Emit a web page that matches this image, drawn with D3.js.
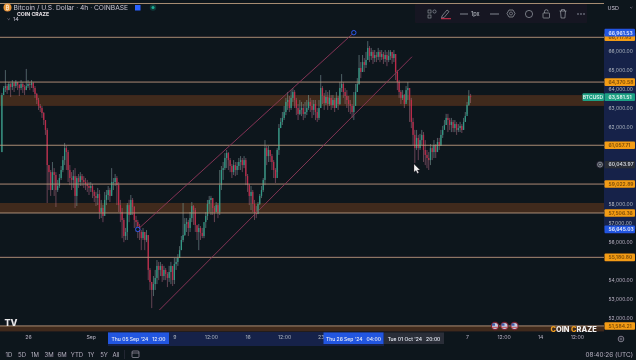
<!DOCTYPE html>
<html>
<head>
<meta charset="utf-8">
<script src="https://cdn.jsdelivr.net/npm/d3@7"></script>
<style>
  html, body { margin: 0; padding: 0; background: #11131f; overflow: hidden; }
  text { font-family: 'Inter', 'Liberation Sans', sans-serif; }
</style>
</head>
<body>
<div id="chart"></div>
<script>
// 4h BTCUSD candles, left to right
const firstOpen = 60700
const closes = [
  63690,64060,64160,63950,64270,64110,64320,64160,64370,64220,
  64060,64270,64110,63950,64160,64270,64220,64320,64060,63750,
  63430,63120,63010,62750,62380,61860,60020,59650,58710,59650,
  59500,58710,58920,59340,59760,60280,60910,60700,59760,59340,
  59240,59440,58400,59340,59130,59440,59240,59130,59030,58920,
  58820,58920,58610,58400,58290,58500,57560,57770,57350,58190,
  58450,58710,58400,59130,59130,59340,58970,57920,57560,57140,
  56300,56510,57920,57400,58190,57820,57140,57030,56820,56510,
  56190,56510,56090,56350,54520,53890,53470,53780,54100,54730,
  54520,54730,54200,54520,54310,54100,54410,54730,53990,54830,
  54940,55150,55560,56090,56350,56930,57030,56720,57240,57870,
  57660,56880,56510,56720,56460,56300,57030,57350,57980,58190,
  58290,57770,57560,57920,57560,58970,59760,59860,60390,60650,
  60280,59970,59650,60020,59760,59970,60180,60280,60020,60280,
  59440,58970,58400,58610,57980,57560,57450,57980,58400,58710,
  59240,60910,60490,60810,60490,60180,59760,59340,60810,61960,
  62280,62490,62800,63330,63430,63010,63540,63850,63430,63010,
  62700,62910,63010,62700,62800,63010,63330,63120,62910,63220,
  62800,62490,63010,64060,63640,63270,63590,63220,63540,63170,
  63430,63010,63540,63220,64060,64270,63850,63640,63430,63220,
  63120,62800,63120,63850,64270,65110,64900,65420,65270,65530,
  66160,65740,65950,65630,65790,65690,65950,65690,65840,65580,
  65790,65530,65740,65950,65630,65840,64900,64370,63850,63540,
  63690,63220,63950,64060,63430,62280,61600,60910,61440,60910,
  61330,61600,60810,60550,60390,60280,60910,60700,61070,60700,
  61230,61020,61600,61860,62120,62490,62380,62120,62280,61960,
  62170,61860,61960,62070,61860,62280,62590,63170,63640,63590
]
const highs = [
  63800,64160,65000,64270,64370,64320,64480,64370,64480,64370,
  64270,64480,64370,64220,65060,64480,64370,64480,64370,64160,
  63800,63540,63220,63120,62800,62380,61960,60020,59760,60180,
  59860,59650,59240,59550,59970,60490,61180,61020,60810,60020,
  59650,59760,59860,59440,59550,59650,59550,59440,59340,59240,
  59130,59130,59030,58710,58610,58820,58710,58190,57920,58610,
  58710,58920,58820,59860,59340,59550,59440,59130,58190,57770,
  57240,56720,58030,58190,58450,58290,57870,57350,57140,56930,
  56610,56720,56510,56610,56350,54620,53890,54200,54520,55040,
  54940,54940,54830,54730,54620,54410,54730,54940,54730,55150,
  55150,55350,55770,56300,58030,57240,57240,57140,57560,58080,
  57920,57770,56820,56930,56820,56720,56720,57560,58190,58400,
  58400,58290,57870,58080,58030,59760,59970,60180,60650,60810,
  60700,60390,60070,60280,60180,60180,60390,60490,60390,60490,
  60390,59550,59030,58920,58710,58190,57870,58080,58500,58920,
  59340,61330,61020,61020,60810,60600,60280,59860,60910,62170,
  62490,62800,63120,63540,63850,63640,63950,64060,63950,63540,
  63220,63430,63330,63220,63330,63430,63690,63540,63430,63430,
  63430,63010,63430,64740,64160,63800,63950,63850,63950,63690,
  63690,63540,63850,63640,64370,64790,64370,64060,63950,63640,
  63430,63220,63850,64270,64580,65790,65420,65790,65630,65950,
  66520,66260,66160,66050,66050,65950,66160,66050,66050,65950,
  66050,65950,66050,66050,65950,66050,65840,65000,64480,63950,
  63950,63750,64160,64370,64060,63540,62490,61860,61860,61600,
  61650,61860,61750,61330,60810,60700,61120,61020,61330,61120,
  61440,61440,61860,62070,62380,62700,62700,62490,62490,62380,
  62380,62280,62170,62280,62170,62490,62800,63330,63950,63750
]
const lows = [
  60700,63850,63850,63750,63950,63590,63950,63850,64060,63950,
  63640,63950,63800,63690,63950,64060,63950,64060,63850,63540,
  63220,62910,62800,62490,62120,61600,58030,58710,58400,59130,
  58400,57820,58610,58820,59240,59650,60020,59760,59130,58970,
  58710,58820,57770,57870,58820,58920,58920,58820,58710,58610,
  58450,58610,58290,58080,57870,57920,57190,57240,57030,57560,
  57920,58190,58080,58610,58710,58920,57920,57560,57030,56190,
  55980,56090,56090,57030,57560,57400,56720,56510,56190,56090,
  55560,56090,55560,55980,53990,53470,52520,53150,53470,53780,
  53990,54200,53890,53990,53990,53620,53890,53780,53680,53780,
  54520,54730,55150,55560,55980,56300,56510,56300,56510,57030,
  56880,56510,56090,55560,56090,56190,56190,56720,57140,57560,
  57400,57400,57030,57560,57240,57400,58710,59240,59760,59860,
  59760,59650,59340,59500,59440,59500,59760,59760,59650,59860,
  58970,58610,57920,57660,57560,57140,57240,57560,57920,58290,
  58610,58970,60020,60180,60180,59760,59340,59080,59650,60550,
  61960,62120,62380,62640,62910,62800,62910,63330,63010,62640,
  62380,62640,62590,62380,62490,62640,62910,62800,62490,62640,
  62380,62280,62380,63010,63220,62910,63170,62910,63120,62910,
  63010,62800,63010,62910,63170,63850,63540,63220,63010,62800,
  62700,62490,62380,63540,63850,64220,64580,64900,64900,65110,
  65530,65420,65530,65320,65420,65420,65530,65420,65530,65320,
  65420,65210,65420,65530,65320,65420,64480,63950,63540,63220,
  63430,63010,63330,63430,62280,61960,61070,60130,60810,60280,
  60810,61070,60180,60020,59860,59760,60020,60280,60390,60390,
  60810,60810,61070,61440,61960,62120,61750,61860,61750,61750,
  61750,61600,61750,61750,61700,61860,62280,62700,63120,63270
]
const opens = closes.map((c, i) => i === 0 ? firstOpen : closes[i - 1])

const levels = [68490, 66717.95, 64370.58, 61057.71, 59022.89, 57506.36, 55180.80, 51584.21]
const zoneTops = [63690, 58030, 51584.21]
const zoneBottoms = [63120, 57506.36, 51300]
const priceTicks = [66000, 65000, 64000, 63000, 62000, 58000, 57000, 56000, 54000, 53000, 52000]
const orangeLabels = [66717.95, 64370.58, 61057.71, 59022.89, 57506.36, 55180.80, 51584.21]
const blueLabels = [66961.53, 56645.03]
const lastPrice = 63581.51
const crossPrice = 60043.97

const timeTickBars = [15, 51, 99, 120, 141, 162, 183, 267, 288, 309, 330]
const timeTickLabels = ['26', 'Sep', '9', '12:00', '16', '12:00', '23', '7', '12:00', '14', '12:00']
const rangeButtons = ['1D', '5D', '1M', '3M', '6M', 'YTD', '1Y', '5Y', 'All']
const rangeButtonX = [9, 22, 35, 49, 62, 77, 91, 104, 116]

// channel end points: [bar, price]
const channelUpper = [[78, 56645.03], [202, 66961.53]]
const channelLower = [[90.4, 52420], [235.4, 65700]]

const width = 636
const height = 360
const paneRight = 604
const paneBottom = 332
const bg = '#11131f'

const svg = d3.select('#chart').append('svg')
  .attr('width', width).attr('height', height)
  .style('display', 'block')

const defs = svg.append('defs')
defs.append('filter').attr('id', 'soft').attr('x', '-2%').attr('y', '-2%').attr('width', '104%').attr('height', '104%')
  .append('feGaussianBlur').attr('stdDeviation', 0.4)

const xScale = d3.scaleLinear().domain([0, 345.6]).range([1.9, paneRight])
const yScale = d3.scaleLinear().domain([66000, 52000]).range([51, 318])

const all = svg.append('g').attr('filter', 'url(#soft)')

all.append('rect').attr('width', width).attr('height', height).attr('fill', bg)

// brown zones
zoneTops.forEach(function(top, i) {
  all.append('rect')
    .attr('x', 0).attr('width', paneRight)
    .attr('y', yScale(top))
    .attr('height', yScale(zoneBottoms[i]) - yScale(top))
    .attr('fill', '#402a1d')
})

// candles
const candles = all.append('g').attr('opacity', 0.9)
candles.selectAll('.wick')
  .data(closes)
  .enter().append('line')
  .attr('class', 'wick')
  .attr('x1', (d, i) => xScale(i)).attr('x2', (d, i) => xScale(i))
  .attr('y1', (d, i) => yScale(highs[i])).attr('y2', (d, i) => yScale(lows[i]))
  .attr('stroke', (d, i) => d >= opens[i] ? '#7fa89f' : '#a9707c')
  .attr('stroke-width', 0.6)
candles.selectAll('.body')
  .data(closes)
  .enter().append('rect')
  .attr('class', 'body')
  .attr('x', (d, i) => xScale(i) - 0.65)
  .attr('width', 1.3)
  .attr('y', (d, i) => yScale(Math.max(d, opens[i])))
  .attr('height', (d, i) => Math.max(0.8, Math.abs(yScale(d) - yScale(opens[i]))))
  .attr('fill', (d, i) => d >= opens[i] ? '#35a88f' : '#cf2f4e')

// level lines
all.selectAll('.level')
  .data(levels)
  .enter().append('line')
  .attr('class', 'level')
  .attr('x1', 0).attr('x2', paneRight)
  .attr('y1', d => yScale(d)).attr('y2', d => yScale(d))
  .attr('stroke', '#b89a7c')
  .attr('stroke-width', 0.9)

// channel
const channelLine = d3.line().x(d => xScale(d[0])).y(d => yScale(d[1]))
;[channelUpper, channelLower].forEach(function(c) {
  all.append('path').attr('d', channelLine(c))
    .attr('fill', 'none').attr('stroke', '#8d3a58').attr('stroke-width', 0.9)
})
;[channelUpper[0], channelUpper[1]].forEach(function(p) {
  all.append('circle').attr('cx', xScale(p[0])).attr('cy', yScale(p[1])).attr('r', 2.2)
    .attr('fill', bg).attr('stroke', '#2962ff').attr('stroke-width', 0.9)
})

// right price axis
all.append('rect').attr('x', paneRight).attr('y', 0).attr('width', width - paneRight).attr('height', paneBottom)
  .attr('fill', bg)
all.append('rect').attr('x', paneRight).attr('y', yScale(blueLabels[0])).attr('width', width - paneRight)
  .attr('height', yScale(blueLabels[1]) - yScale(blueLabels[0])).attr('fill', '#13224a')

const yAxis = d3.axisRight(yScale).tickValues(priceTicks).tickFormat(d3.format(',.2f')).tickSize(0).tickPadding(0)
const yAxisG = all.append('g').attr('transform', 'translate(' + (paneRight + 4.5) + ',0)').call(yAxis)
yAxisG.select('.domain').remove()
yAxisG.selectAll('text').attr('fill', '#b2b5be').attr('font-size', '5px')

function priceLabel(value, fill, fg) {
  all.append('rect').attr('x', paneRight + 0.5).attr('y', yScale(value) - 3.8).attr('width', 30.5).attr('height', 7.6)
    .attr('rx', 1).attr('fill', fill)
  all.append('text').attr('x', paneRight + 4.5).attr('y', yScale(value) + 1.9)
    .text(d3.format(',.2f')(value)).attr('font-size', '5px').attr('font-weight', 600).attr('fill', fg)
}
orangeLabels.forEach(d => priceLabel(d, '#f39c12', '#7a4a10'))
blueLabels.forEach(d => priceLabel(d, '#2456e0', '#e6ebf8'))
priceLabel(lastPrice, '#1fa184', '#e6f5f0')
priceLabel(crossPrice, '#2a2e39', '#d1d4dc')

all.append('rect').attr('x', 582.5).attr('y', yScale(lastPrice) - 3.8).attr('width', 21.5).attr('height', 7.6).attr('rx', 1).attr('fill', '#1fa184')
all.append('text').attr('x', 593).attr('y', yScale(lastPrice) + 1.9).attr('text-anchor', 'middle')
  .text('BTCUSD').attr('font-size', '5px').attr('font-weight', 600).attr('fill', '#dff3ee')

// plus button at the crosshair
all.append('circle').attr('cx', 600).attr('cy', yScale(crossPrice)).attr('r', 3.6).attr('fill', '#2a2e39')
all.append('circle').attr('cx', 600).attr('cy', yScale(crossPrice)).attr('r', 2.4).attr('fill', 'none').attr('stroke', '#d1d4dc').attr('stroke-width', 0.5)
all.append('path').attr('d', 'M598.8,' + yScale(crossPrice) + 'h2.4M600,' + (yScale(crossPrice) - 1.2) + 'v2.4')
  .attr('stroke', '#d1d4dc').attr('stroke-width', 0.5)

all.append('text').attr('x', 607.5).attr('y', 10).text('USD').attr('font-size', '5.4px').attr('fill', '#c3c6ce')
all.append('path').attr('d', 'M630,7l1.2,1.2l1.2,-1.2').attr('fill', 'none').attr('stroke', '#9a9da6').attr('stroke-width', 0.5)

// time axis
all.append('rect').attr('x', 0).attr('y', paneBottom).attr('width', width).attr('height', 14).attr('fill', bg)
all.append('rect').attr('x', 108).attr('y', paneBottom).attr('width', 276).attr('height', 14).attr('fill', '#13224a')

const xAxis = d3.axisBottom(xScale).tickValues(timeTickBars)
  .tickFormat((d, i) => timeTickLabels[i]).tickSize(0).tickPadding(0)
const xAxisG = all.append('g').attr('transform', 'translate(0,337)').call(xAxis)
xAxisG.select('.domain').remove()
xAxisG.selectAll('text').attr('fill', '#b2b5be').attr('font-size', '5.2px').attr('dy', '0.4em')

function dateLabel(x, w, txt, fill) {
  all.append('rect').attr('x', x).attr('y', 332.5).attr('width', w).attr('height', 11.5).attr('fill', fill)
  all.append('text').attr('x', x + w / 2).attr('y', 340.8).attr('text-anchor', 'middle')
    .text(txt).attr('font-size', '5px').attr('font-weight', 500).attr('fill', '#e8ecf5').attr('xml:space', 'preserve')
}
dateLabel(108, 61, "Thu 05 Sep '24   12:00", '#2456e0')
dateLabel(323.5, 60, "Thu 26 Sep '24   04:00", '#2456e0')
dateLabel(384, 60, "Tue 01 Oct '24   20:00", '#2a2e39')

// gear
all.append('circle').attr('cx', 621).attr('cy', 339).attr('r', 2.8).attr('fill', 'none').attr('stroke', '#a8abb4').attr('stroke-width', 0.7)
all.append('circle').attr('cx', 621).attr('cy', 339).attr('r', 1).attr('fill', 'none').attr('stroke', '#a8abb4').attr('stroke-width', 0.5)

// bottom bar
all.selectAll('.range')
  .data(rangeButtons)
  .enter().append('text')
  .attr('class', 'range')
  .attr('x', (d, i) => rangeButtonX[i]).attr('y', 356.5)
  .attr('text-anchor', 'middle')
  .text(d => d).attr('font-size', '6px').attr('fill', '#b2b5be')
all.append('line').attr('x1', 124.5).attr('x2', 124.5).attr('y1', 350).attr('y2', 359).attr('stroke', '#2a2e39').attr('stroke-width', 0.7)
all.append('rect').attr('x', 132).attr('y', 351).attr('width', 7).attr('height', 6.5).attr('rx', 1)
  .attr('fill', 'none').attr('stroke', '#b2b5be').attr('stroke-width', 0.6)
all.append('line').attr('x1', 132).attr('x2', 139).attr('y1', 353).attr('y2', 353).attr('stroke', '#b2b5be').attr('stroke-width', 0.6)
all.append('text').attr('x', 633).attr('y', 357).attr('text-anchor', 'end')
  .text('08:40:26 (UTC)').attr('font-size', '6.4px').attr('fill', '#b2b5be')

// header
all.append('circle').attr('cx', 7.5).attr('cy', 7.5).attr('r', 4).attr('fill', '#e8973a')
all.append('text').attr('x', 7.5).attr('y', 9.6).attr('text-anchor', 'middle').text('₿').attr('font-size', '5.5px').attr('fill', '#fff')
all.append('text').attr('x', 13.5).attr('y', 10).text('Bitcoin / U.S. Dollar · 4h · COINBASE')
  .attr('font-size', '6.7px').attr('fill', '#c6c9d1')
all.append('rect').attr('x', 135).attr('y', 5).attr('width', 5.5).attr('height', 5.5).attr('fill', '#2962ff')
all.append('circle').attr('cx', 153).attr('cy', 7.5).attr('r', 3.2).attr('fill', '#0e3b38')
all.append('circle').attr('cx', 153).attr('cy', 7.5).attr('r', 1.5).attr('fill', '#22ab94')
all.append('text').attr('x', 17).attr('y', 15.8).text('COIN CRAZE').attr('font-size', '5.2px').attr('font-weight', 700).attr('fill', '#e4e4e4')
all.append('path').attr('d', 'M7.5,18.5l1.2,1.2l1.2,-1.2').attr('fill', 'none').attr('stroke', '#b2b5be').attr('stroke-width', 0.5)
all.append('text').attr('x', 13).attr('y', 21).text('14').attr('font-size', '5.4px').attr('fill', '#c6c9d1')

// drawing toolbar
all.append('rect').attr('x', 415).attr('y', 4).attr('width', 172).attr('height', 19).attr('rx', 2).attr('fill', '#161823')
all.append('rect').attr('x', 428).attr('y', 10).attr('width', 3).attr('height', 3).attr('fill', 'none').attr('stroke', '#b2b5be').attr('stroke-width', 0.5)
all.append('rect').attr('x', 428).attr('y', 15).attr('width', 3).attr('height', 3).attr('fill', 'none').attr('stroke', '#b2b5be').attr('stroke-width', 0.5)
all.append('circle').attr('cx', 434.5).attr('cy', 11.5).attr('r', 1.6).attr('fill', 'none').attr('stroke', '#b2b5be').attr('stroke-width', 0.5)
all.append('path').attr('d', 'M442,16l5,-6l2,1.6l-5,6l-2.4,0.6z').attr('fill', 'none').attr('stroke', '#b2b5be').attr('stroke-width', 0.6)
all.append('rect').attr('x', 441).attr('y', 18.2).attr('width', 10).attr('height', 1).attr('fill', '#d9304f')
all.append('line').attr('x1', 460).attr('x2', 468).attr('y1', 14).attr('y2', 14).attr('stroke', '#b2b5be').attr('stroke-width', 0.7)
all.append('text').attr('x', 471).attr('y', 16).text('1px').attr('font-size', '5.6px').attr('fill', '#c6c9d1')
all.append('line').attr('x1', 490).attr('x2', 499).attr('y1', 14).attr('y2', 14).attr('stroke', '#b2b5be').attr('stroke-width', 0.7)
all.append('path').attr('d', 'M509,10l4,0l2,3.5l-2,3.5l-4,0l-2,-3.5z').attr('fill', 'none').attr('stroke', '#b2b5be').attr('stroke-width', 0.6)
all.append('circle').attr('cx', 511).attr('cy', 13.5).attr('r', 1.5).attr('fill', 'none').attr('stroke', '#b2b5be').attr('stroke-width', 0.5)
all.append('circle').attr('cx', 529).attr('cy', 14).attr('r', 3.6).attr('fill', 'none').attr('stroke', '#b2b5be').attr('stroke-width', 0.6)
all.append('rect').attr('x', 543).attr('y', 13).attr('width', 6.5).attr('height', 5).attr('rx', 0.6).attr('fill', 'none').attr('stroke', '#b2b5be').attr('stroke-width', 0.6)
all.append('path').attr('d', 'M544.5,13v-1.5a1.8,1.8 0 0 1 3.6,0').attr('fill', 'none').attr('stroke', '#b2b5be').attr('stroke-width', 0.6)
all.append('path').attr('d', 'M559.5,11h7M560.5,11l0.6,7h3.8l0.6,-7M561.5,11v-1.4h3v1.4').attr('fill', 'none').attr('stroke', '#b2b5be').attr('stroke-width', 0.6)
all.selectAll('.dot').data([578, 581, 584]).enter().append('circle').attr('class', 'dot')
  .attr('cx', d => d).attr('cy', 14).attr('r', 0.7).attr('fill', '#b2b5be')

// TV logo
all.append('text').attr('x', 4.5).attr('y', 326).text('TV').attr('font-size', '9px').attr('font-weight', 800).attr('fill', '#e8e8e8')

// calendar flags
;[495, 504.5, 514.5].forEach(function(x) {
  all.append('circle').attr('cx', x).attr('cy', 326).attr('r', 4.2).attr('fill', '#7a2430')
  all.append('circle').attr('cx', x).attr('cy', 326).attr('r', 3).attr('fill', '#c6cce0')
  all.append('rect').attr('x', x - 3).attr('y', 323.5).attr('width', 3).attr('height', 2.2).attr('fill', '#3a5aa8')
  all.append('rect').attr('x', x - 3).attr('y', 326.8).attr('width', 6).attr('height', 1).attr('fill', '#c84a52')
})

// channel watermark bottom right
const mark = all.append('text').attr('x', 550.5).attr('y', 332).attr('font-size', '7.4px').attr('font-weight', 800).attr('fill', '#f2f2f2')
mark.append('tspan').text('C').attr('fill', '#f0a020')
mark.append('tspan').text('OIN ')
mark.append('tspan').text('C').attr('fill', '#f0a020')
mark.append('tspan').text('RAZE')

// mouse pointer
all.append('path')
  .attr('transform', 'translate(414,164)')
  .attr('d', 'M0,0 L0,8 L2,6.4 L3.4,9.4 L4.8,8.8 L3.4,6 L6,6 Z')
  .attr('fill', '#f2f2f2').attr('stroke', '#222').attr('stroke-width', 0.3)
</script>
</body>
</html>
